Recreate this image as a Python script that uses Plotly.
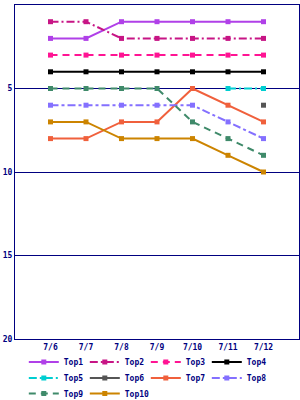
import plotly.graph_objects as go

dates = ["7/6", "7/7", "7/8", "7/9", "7/10", "7/11", "7/12"]
names = ["Top1", "Top2", "Top3", "Top4", "Top5", "Top6", "Top7", "Top8", "Top9", "Top10"]
top1 = [2, 2, 1, 1, 1, 1, 1]
top2 = [1, 1, 2, 2, 2, 2, 2]
top3 = [3, 3, 3, 3, 3, 3, 3]
top4 = [4, 4, 4, 4, 4, 4, 4]
top5 = [None, None, None, None, None, 5, 5]
top6 = [None, None, None, None, None, None, 6]
top7 = [8, 8, 7, 7, 5, 6, 7]
top8 = [6, 6, 6, 6, 6, 7, 8]
top9 = [5, 5, 5, 5, 7, 8, 9]
top10 = [7, 7, 8, 8, 8, 9, 10]
series = [top1, top2, top3, top4, top5, top6, top7, top8, top9, top10]
colors = ["#b040e8", "#c71585", "#ff1493", "#000000", "#00ced1",
          "#555555", "#f0603c", "#8470ff", "#3f8a6a", "#cc8400"]
dashes = ["solid", "8px,3px,2px,3px", "7px,5px", "solid", "8px,3px,2px,3px",
          "solid", "solid", "8px,3px,3px,3px", "7px,5px", "solid"]
legend_rows = ["legend", "legend", "legend", "legend",
               "legend2", "legend2", "legend2", "legend2",
               "legend3", "legend4"]

NAVY = "#000080"
FONT = dict(family="DejaVu Sans Mono", size=8, color=NAVY, weight="bold")
fig = go.Figure()
for n, s, c, d, lg in zip(names, series, colors, dashes, legend_rows):
    fig.add_trace(go.Scatter(
        x=dates, y=s, name=n, mode="lines+markers",
        line=dict(color=c, width=2, dash=d),
        marker=dict(symbol="square", size=5, color=c),
        legend=lg,
    ))

plot_h = 334.0
plot_w = 284.0
def leg(yc, col=0, ew=16):
    return dict(
        orientation="h", x=0.031 + col * 61 / plot_w, xanchor="left",
        y=-(yc - 339) / plot_h, yanchor="middle",
        entrywidth=ew, entrywidthmode="pixels", itemwidth=30,
        font=FONT, bgcolor="rgba(0,0,0,0)",
    )

fig.update_layout(
    width=300, height=400,
    margin=dict(l=15, r=1, t=5, b=61, autoexpand=False),
    plot_bgcolor="white", paper_bgcolor="white",
    font=FONT,
    showlegend=True,
    legend=leg(362), legend2=leg(378), legend3=leg(393.5),
    legend4=leg(393.5, col=1, ew=40),
)
fig.update_xaxes(
    type="category", range=[-1, 7], showgrid=False,
    showline=True, linecolor=NAVY, linewidth=1, mirror=True,
    ticks="", tickfont=FONT,
)
fig.update_yaxes(
    range=[20, 0], tickvals=[5, 10, 15, 20],
    showgrid=True, gridcolor=NAVY, gridwidth=1, zeroline=False,
    showline=True, linecolor=NAVY, linewidth=1, mirror=True,
    ticks="", tickfont=FONT,
)
fig.write_html("out.html")
